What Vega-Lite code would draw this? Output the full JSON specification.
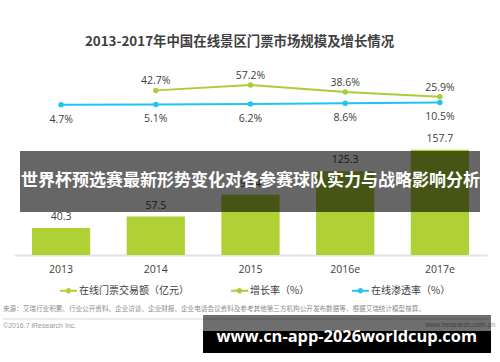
{
  "$schema": "https://vega.github.io/schema/vega-lite/v6.json",
  "width": 473,
  "height": 195,
  "autosize": {"type": "none"},
  "padding": {"left": 14, "top": 60, "right": 13, "bottom": 107},
  "background": "white",
  "title": {
    "text": "2013-2017年中国在线景区门票市场规模及增长情况",
    "font": "Noto Sans CJK SC",
    "fontSize": 13.4,
    "fontWeight": "bold",
    "color": "#404040",
    "anchor": "middle",
    "dx": -11,
    "offset": 12
  },
  "config": {"view": {"stroke": null}, "font": "Open Sans"},
  "layer": [
    {
      "data": {
        "values": [
          {"year": "2013", "volume": 40.3, "growth": null, "penetration": 0.047},
          {"year": "2014", "volume": 57.5, "growth": 0.427, "penetration": 0.051},
          {"year": "2015", "volume": 90.4, "growth": 0.572, "penetration": 0.062},
          {"year": "2016e", "volume": 125.3, "growth": 0.386, "penetration": 0.086},
          {"year": "2017e", "volume": 157.7, "growth": 0.259, "penetration": 0.105}
        ]
      },
      "encoding": {
        "x": {
          "field": "year",
          "type": "ordinal",
          "sort": null,
          "scale": {"type": "band", "paddingInner": 0.385, "paddingOuter": 0.19},
          "axis": {
            "title": null,
            "labelAngle": 0,
            "ticks": false,
            "grid": false,
            "domainColor": "#e3e3e3",
            "domainWidth": 2,
            "labelPadding": 9,
            "labelFontSize": 10.5,
            "labelColor": "#404040",
            "labelFont": "Open Sans"
          }
        }
      },
      "layer": [
        {
          "mark": {"type": "bar"},
          "encoding": {
            "y": {"field": "volume", "type": "quantitative", "scale": {"domain": [0, 292], "nice": false, "zero": false}, "axis": null},
            "color": {
              "datum": "在线门票交易额（亿元）",
              "scale": {
                "domain": ["在线门票交易额（亿元）", "增长率（%）", "在线渗透率（%）"],
                "range": ["#b0d136", "#a9cf38", "#22c3f3"]
              },
              "legend": {
                "title": null,
                "orient": "none",
                "legendX": 46,
                "legendY": 222,
                "direction": "horizontal",
                "columnPadding": 42,
                "labelFont": "Noto Sans CJK SC",
                "labelFontSize": 10,
                "labelColor": "#404040",
                "labelOffset": 2,
                "symbolSize": 289,
                "symbolOpacity": 1,
                "symbolStrokeWidth": 0,
                "symbolType": "M-1,-0.11H1V0.11H-1ZM0.32,0A0.32,0.32 0 1,1 -0.32,0A0.32,0.32 0 1,1 0.32,0Z"
              }
            }
          }
        },
        {
          "mark": {"type": "text", "dy": -11, "fontSize": 10.5, "color": "#404040", "font": "Open Sans"},
          "encoding": {
            "y": {"field": "volume", "type": "quantitative", "scale": {"domain": [0, 292], "nice": false, "zero": false}, "axis": null},
            "text": {"field": "volume", "type": "quantitative", "format": ".1f"}
          }
        },
        {
          "transform": [{"filter": "datum.growth != null"}],
          "mark": {"type": "line", "strokeWidth": 2, "point": {"filled": true, "size": 30}},
          "encoding": {
            "y": {"field": "growth", "type": "quantitative", "scale": {"domain": [-3.963, 1.237], "nice": false, "zero": false}, "axis": null},
            "color": {"datum": "增长率（%）"}
          }
        },
        {
          "transform": [{"filter": "datum.growth != null"}],
          "mark": {"type": "text", "dy": -9, "fontSize": 10.5, "color": "#404040", "font": "Open Sans"},
          "encoding": {
            "y": {"field": "growth", "type": "quantitative", "scale": {"domain": [-3.963, 1.237], "nice": false, "zero": false}, "axis": null},
            "text": {"field": "growth", "type": "quantitative", "format": ".1%"}
          }
        },
        {
          "mark": {"type": "line", "strokeWidth": 2, "point": {"filled": true, "size": 30}},
          "encoding": {
            "y": {"field": "penetration", "type": "quantitative", "scale": {"domain": [-3.963, 1.237], "nice": false, "zero": false}, "axis": null},
            "color": {"datum": "在线渗透率（%）"}
          }
        },
        {
          "mark": {"type": "text", "dy": 15, "fontSize": 10.5, "color": "#404040", "font": "Open Sans"},
          "encoding": {
            "y": {"field": "penetration", "type": "quantitative", "scale": {"domain": [-3.963, 1.237], "nice": false, "zero": false}, "axis": null},
            "text": {"field": "penetration", "type": "quantitative", "format": ".1%"}
          }
        }
      ],
      "resolve": {"scale": {"y": "independent"}}
    },
    {
      "data": {
        "values": [
          {
            "banner": "世界杯预选赛最新形势变化对各参赛球队实力与战略影响分析",
            "site": "www.cn-app-2026worldcup.com",
            "source": "来源：艾瑞行业积累、行业公开资料、企业访谈、企业财报、企业电话会议资料及参考其他第三方机构公开发布数据等，根据艾瑞统计模型核算。",
            "copyright": "©2016.7 iResearch Inc.",
            "origin": "www.iresearch.com.cn"
          }
        ]
      },
      "layer": [
        {
          "mark": {"type": "text", "align": "left", "baseline": "middle", "font": "Noto Sans CJK SC", "fontSize": 6.6, "color": "#8c8c8c"},
          "encoding": {
            "x": {"datum": -2.33, "type": "quantitative", "scale": {"domain": [0, 100], "nice": false, "zero": false}, "axis": null},
            "y": {"datum": -80.9, "type": "quantitative", "scale": {"domain": [0, 292], "nice": false, "zero": false}, "axis": null},
            "text": {"field": "source"}
          }
        },
        {
          "mark": {"type": "rule", "color": "#d4d4d4", "strokeWidth": 1},
          "encoding": {
            "x": {"datum": -2.33, "type": "quantitative", "scale": {"domain": [0, 100], "nice": false, "zero": false}, "axis": null},
            "x2": {"datum": 100.6},
            "y": {"datum": -95.8, "type": "quantitative", "scale": {"domain": [0, 292], "nice": false, "zero": false}, "axis": null}
          }
        },
        {
          "mark": {"type": "text", "align": "left", "baseline": "middle", "font": "Liberation Sans", "fontSize": 7, "color": "#999999"},
          "encoding": {
            "x": {"datum": -2.33, "type": "quantitative", "scale": {"domain": [0, 100], "nice": false, "zero": false}, "axis": null},
            "y": {"datum": -106.3, "type": "quantitative", "scale": {"domain": [0, 292], "nice": false, "zero": false}, "axis": null},
            "text": {"field": "copyright"}
          }
        },
        {
          "mark": {"type": "text", "align": "right", "baseline": "middle", "font": "Liberation Sans", "fontSize": 7, "color": "#999999"},
          "encoding": {
            "x": {"datum": 101.7, "type": "quantitative", "scale": {"domain": [0, 100], "nice": false, "zero": false}, "axis": null},
            "y": {"datum": -104.8, "type": "quantitative", "scale": {"domain": [0, 292], "nice": false, "zero": false}, "axis": null},
            "text": {"field": "origin"}
          }
        },
        {
          "mark": {"type": "rect", "color": "#000000", "opacity": 0.6},
          "encoding": {
            "x": {"datum": 1.27, "type": "quantitative", "scale": {"domain": [0, 100], "nice": false, "zero": false}, "axis": null},
            "x2": {"datum": 98.52},
            "y": {"datum": 64.4, "type": "quantitative", "scale": {"domain": [0, 292], "nice": false, "zero": false}, "axis": null},
            "y2": {"datum": 155.7}
          }
        },
        {
          "mark": {"type": "text", "align": "center", "baseline": "middle", "font": "Noto Sans CJK SC", "fontWeight": "bold", "fontSize": 17, "color": "#ffffff"},
          "encoding": {
            "x": {"datum": 50, "type": "quantitative", "scale": {"domain": [0, 100], "nice": false, "zero": false}, "axis": null},
            "y": {"datum": 110.8, "type": "quantitative", "scale": {"domain": [0, 292], "nice": false, "zero": false}, "axis": null},
            "text": {"field": "banner"}
          }
        },
        {
          "mark": {"type": "rect", "color": "#000000", "opacity": 0.57},
          "encoding": {
            "x": {"datum": 39.96, "type": "quantitative", "scale": {"domain": [0, 100], "nice": false, "zero": false}, "axis": null},
            "x2": {"datum": 100.85},
            "y": {"datum": -89.8, "type": "quantitative", "scale": {"domain": [0, 292], "nice": false, "zero": false}, "axis": null},
            "y2": {"datum": -113.8}
          }
        },
        {
          "mark": {"type": "rect", "color": "#000000", "opacity": 1},
          "encoding": {
            "x": {"datum": 39.96, "type": "quantitative", "scale": {"domain": [0, 100], "nice": false, "zero": false}, "axis": null},
            "x2": {"datum": 100.85},
            "y": {"datum": -113.8, "type": "quantitative", "scale": {"domain": [0, 292], "nice": false, "zero": false}, "axis": null},
            "y2": {"datum": -146.8}
          }
        },
        {
          "mark": {"type": "text", "align": "center", "baseline": "middle", "font": "Open Sans", "fontWeight": "bold", "fontSize": 16.4, "color": "#ffffff"},
          "encoding": {
            "x": {"datum": 70.34, "type": "quantitative", "scale": {"domain": [0, 100], "nice": false, "zero": false}, "axis": null},
            "y": {"datum": -123.5, "type": "quantitative", "scale": {"domain": [0, 292], "nice": false, "zero": false}, "axis": null},
            "text": {"field": "site"}
          }
        }
      ]
    }
  ],
  "resolve": {"scale": {"x": "independent", "y": "independent"}}
}
